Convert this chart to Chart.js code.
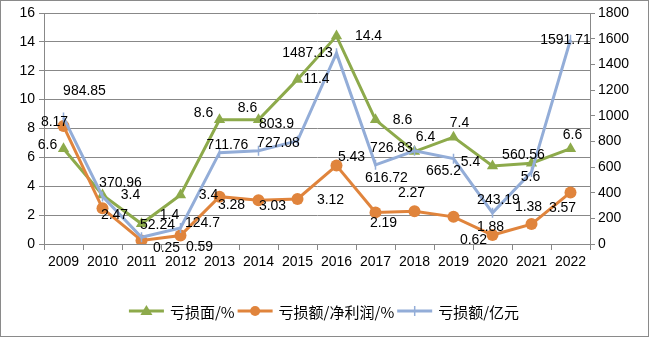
<!DOCTYPE html>
<html>
<head>
<meta charset="utf-8">
<script src="https://cdn.jsdelivr.net/npm/chart.js@4/dist/chart.umd.min.js"></script>
<style>
  html, body { margin: 0; padding: 0; background: #fff; }
  #wrap { width: 650px; height: 338px; position: relative; }
</style>
</head>
<body>
<div id="wrap"><canvas id="c" width="650" height="338"></canvas></div>
<script>
// ---- data ----
const years = ['2009','2010','2011','2012','2013','2014','2015','2016','2017','2018','2019','2020','2021','2022'];
const lossShare = [6.6, 3.4, 1.4, 3.4, 8.6, 8.6, 11.4, 14.4, 8.6, 6.4, 7.4, 5.4, 5.6, 6.6];           // 亏损面/%
const lossToProfit = [8.17, 2.47, 0.25, 0.59, 3.28, 3.03, 3.12, 5.43, 2.19, 2.27, 1.88, 0.62, 1.38, 3.57]; // 亏损额/净利润/%
const lossAmount = [984.85, 370.96, 52.24, 124.7, 711.76, 727.08, 803.9, 1487.13, 616.72, 726.83, 665.2, 243.19, 560.56, 1591.71]; // 亏损额/亿元
const seriesNames = ['亏损面/%', '亏损额/净利润/%', '亏损额/亿元'];
const leftTicks = [0, 2, 4, 6, 8, 10, 12, 14, 16];
const rightTicks = [0, 200, 400, 600, 800, 1000, 1200, 1400, 1600, 1800];

// ---- label placement (pixel offsets from each point) ----
const greenOff = [[-16,-4],[28,0],[28,-9],[28,0],[-16,-7],[-11,-12],[19,0],[32,0],[27,0],[11,-14],[6,-14],[-22,-4],[-1,14],[2,-14]];
const orangeOff = [[-9,-4],[12,7],[25,8],[19,12],[12,8],[14,6],[33,1],[15,-8],[8,11],[-3,-18],[37,10],[-19,5],[-3,-17],[-8,16]];
const blueOff = [[21,-26],[18,-13],[16,-12],[22,-5],[8,-8],[20,-8],[-21,-17],[-29,0],[11,13],[-23,-3],[-10,13],[6,-13],[-8,-17],[-5,0]];

const GREEN = '#8DAA4B', ORANGE = '#E0843C', BLUE = '#93ADD8';
const AXIS = '#888888';
const FONT = '"Liberation Sans", Arial, sans-serif';
const CJK = '"Noto Sans CJK SC", sans-serif';

const labelPlugin = {
  id: 'pointLabels',
  afterDatasetsDraw(chart) {
    const ctx = chart.ctx;
    const offs = [greenOff, orangeOff, blueOff];
    ctx.save();
    ctx.font = '14px ' + FONT;
    ctx.fillStyle = '#000';
    ctx.textAlign = 'center';
    ctx.textBaseline = 'middle';
    chart.data.datasets.forEach((ds, i) => {
      const meta = chart.getDatasetMeta(i);
      meta.data.forEach((el, j) => {
        const o = offs[i][j];
        ctx.fillText(String(ds.data[j]), el.x + o[0], el.y + o[1]);
      });
    });
    ctx.restore();
  }
};

const frameLegendPlugin = {
  id: 'frameLegend',
  beforeDraw(chart) {
    const ctx = chart.ctx;
    ctx.save();
    ctx.fillStyle = '#fff';
    ctx.fillRect(0, 0, chart.width, chart.height);
    ctx.restore();
  },
  afterDraw(chart) {
    const ctx = chart.ctx;
    ctx.save();
    ctx.strokeStyle = '#8a8a8a';
    ctx.lineWidth = 1;
    ctx.strokeRect(0.5, 0.5, 648, 336);
    // legend
    ctx.font = '15px ' + CJK;
    const lineLen = 35, gapText = 6, gapItem = 3;
    const colors = [GREEN, ORANGE, BLUE];
    const widths = seriesNames.map(n => ctx.measureText(n).width);
    let total = 0;
    widths.forEach((w, i) => { total += lineLen + gapText + w + (i < 2 ? gapItem : 0); });
    let x = 324 - total / 2;
    const y = 311;
    ctx.textBaseline = 'middle';
    ctx.textAlign = 'left';
    seriesNames.forEach((n, i) => {
      ctx.strokeStyle = colors[i];
      ctx.lineWidth = 3;
      ctx.beginPath();
      ctx.moveTo(x, y); ctx.lineTo(x + lineLen, y); ctx.stroke();
      const cx = x + lineLen / 2;
      ctx.fillStyle = colors[i];
      if (i === 0) {
        ctx.beginPath();
        ctx.moveTo(cx, y - 6); ctx.lineTo(cx + 6, y + 4); ctx.lineTo(cx - 6, y + 4); ctx.closePath(); ctx.fill();
      } else if (i === 1) {
        ctx.beginPath(); ctx.arc(cx, y, 5, 0, Math.PI * 2); ctx.fill();
      } else {
        ctx.lineWidth = 1.5;
        ctx.beginPath(); ctx.moveTo(cx, y - 5); ctx.lineTo(cx, y + 5); ctx.stroke();
      }
      ctx.fillStyle = '#000';
      ctx.fillText(n, x + lineLen + gapText, y + 1);
      x += lineLen + gapText + widths[i] + gapItem;
    });
    ctx.restore();
  }
};

new Chart(document.getElementById('c'), {
  type: 'line',
  data: {
    labels: years,
    datasets: [
      { label: seriesNames[0], data: lossShare, yAxisID: 'y', borderColor: GREEN, backgroundColor: GREEN,
        borderWidth: 3, pointStyle: 'triangle', pointRadius: 6.5, pointBorderWidth: 0, order: 3, tension: 0 },
      { label: seriesNames[1], data: lossToProfit, yAxisID: 'y', borderColor: ORANGE, backgroundColor: ORANGE,
        borderWidth: 3, pointStyle: 'circle', pointRadius: 6, pointBorderWidth: 0, order: 2, tension: 0 },
      { label: seriesNames[2], data: lossAmount, yAxisID: 'y1', borderColor: BLUE, backgroundColor: BLUE,
        borderWidth: 3, pointStyle: 'line', rotation: 90, pointRadius: 5, pointBorderWidth: 1.5, order: 1, tension: 0 }
    ]
  },
  options: {
    responsive: false,
    animation: false,
    layout: { padding: { top: 13, left: 0, right: 0, bottom: 0 } },
    plugins: { legend: { display: false }, tooltip: { enabled: false } },
    scales: {
      x: {
        offset: true,
        grid: { offset: true, drawOnChartArea: false, drawTicks: true, tickLength: 6, color: AXIS },
        border: { display: true, color: AXIS },
        ticks: { color: '#000', font: { family: FONT, size: 14 }, padding: 4, maxRotation: 0, autoSkip: false },
        afterFit(s) { s.height = 94; }
      },
      y: {
        position: 'left', min: 0, max: 16,
        afterBuildTicks(s) { s.ticks = leftTicks.map(v => ({ value: v })); },
        grid: { color: AXIS, tickLength: 5, drawTicks: true },
        border: { display: true, color: AXIS },
        ticks: { color: '#000', font: { family: FONT, size: 14 }, padding: 4, callback: v => String(v) },
        afterFit(s) { s.width = 44; }
      },
      y1: {
        position: 'right', min: 0, max: 1800,
        afterBuildTicks(s) { s.ticks = rightTicks.map(v => ({ value: v })); },
        grid: { drawOnChartArea: false, color: AXIS, tickLength: 5, drawTicks: true },
        border: { display: true, color: AXIS },
        ticks: { color: '#000', font: { family: FONT, size: 14 }, padding: 3, callback: v => String(v) },
        afterFit(s) { s.width = 60; }
      }
    }
  },
  plugins: [frameLegendPlugin, labelPlugin]
});
</script>
</body>
</html>
